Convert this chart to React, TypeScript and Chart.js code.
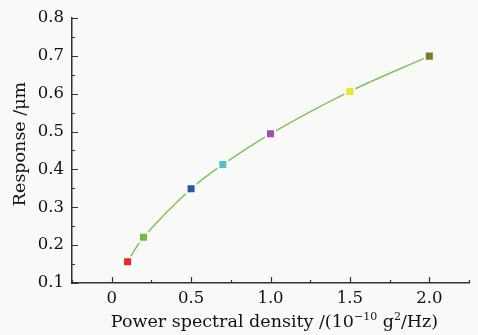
import React, { useEffect, useRef } from "react";
import { Chart, registerables } from "chart.js";

Chart.register(...registerables);

const xValues = [0.1, 0.2, 0.5, 0.7, 1.0, 1.5, 2.0];
const yValues = [0.156, 0.221, 0.349, 0.413, 0.494, 0.606, 0.699];
const pointColors = ["#e8282c", "#6cbf3f", "#2a55a8", "#55c0d0", "#a050a8", "#ece43c", "#7a7a30"];
const xTicks = [0, 0.5, 1.0, 1.5, 2.0];
const xTickLabels = ["0", "0.5", "1.0", "1.5", "2.0"];
const xMinorTicks = [-0.25, 0.25, 0.75, 1.25, 1.75, 2.25];
const yTicks = [0.1, 0.2, 0.3, 0.4, 0.5, 0.6, 0.7, 0.8];
const yTickLabels = ["0.1", "0.2", "0.3", "0.4", "0.5", "0.6", "0.7", "0.8"];
const yMinorTicks = [0.15, 0.25, 0.35, 0.45, 0.55, 0.65, 0.75];
const yTitle = "Response /μm";
// x title pieces: [text, isSuperscript]
const xTitleParts: [string, boolean][] = [
  ["Power spectral density /(10", false],
  ["−10", true],
  [" g", false],
  ["2", true],
  ["/Hz)", false],
];

const BG = "#f9f9f7";
const FONT = "'DejaVu Serif', serif";

export default function App() {
  const ref = useRef<HTMLCanvasElement | null>(null);
  useEffect(() => {
    if (!ref.current) return;
    const bgPlugin = {
      id: "bg",
      beforeDraw(chart: any) {
        const ctx = chart.ctx;
        ctx.save();
        ctx.fillStyle = BG;
        ctx.fillRect(0, 0, chart.width, chart.height);
        ctx.restore();
      },
    };
    const tickPlugin = {
      id: "inTicks",
      afterDraw(chart: any) {
        const ctx = chart.ctx;
        const xs = chart.scales.x;
        const ys = chart.scales.y;
        const area = chart.chartArea;
        ctx.save();
        ctx.strokeStyle = "#333";
        ctx.lineWidth = 1.2;
        ctx.beginPath();
        xTicks.forEach((v) => {
          const px = Math.round(xs.getPixelForValue(v)) + 0.5;
          ctx.moveTo(px, area.bottom);
          ctx.lineTo(px, area.bottom - 6);
        });
        xMinorTicks.forEach((v) => {
          const px = Math.round(xs.getPixelForValue(v)) + 0.5;
          ctx.moveTo(px, area.bottom);
          ctx.lineTo(px, area.bottom - 3);
        });
        yTicks.forEach((v) => {
          const py = Math.round(ys.getPixelForValue(v)) + 0.5;
          ctx.moveTo(area.left, py);
          ctx.lineTo(area.left + 6, py);
        });
        yMinorTicks.forEach((v) => {
          const py = Math.round(ys.getPixelForValue(v)) + 0.5;
          ctx.moveTo(area.left, py);
          ctx.lineTo(area.left + 3, py);
        });
        ctx.stroke();

        // titles
        ctx.fillStyle = "#111";
        ctx.textBaseline = "alphabetic";
        const big = 17.5;
        const small = 11;
        let total = 0;
        xTitleParts.forEach(([t, sup]) => {
          ctx.font = `${sup ? small : big}px ${FONT}`;
          total += ctx.measureText(t).width;
        });
        let x = (area.left + area.right) / 2 + 4 - total / 2;
        const baseY = 327;
        ctx.textAlign = "left";
        xTitleParts.forEach(([t, sup]) => {
          ctx.font = `${sup ? small : big}px ${FONT}`;
          ctx.fillText(t, x, sup ? baseY - 7 : baseY);
          x += ctx.measureText(t).width;
        });

        ctx.save();
        ctx.translate(25, 144);
        ctx.rotate(-Math.PI / 2);
        ctx.font = `${big}px ${FONT}`;
        ctx.textAlign = "center";
        ctx.fillText(yTitle, 0, 0);
        ctx.restore();
        ctx.restore();
      },
    };
    const chart = new Chart(ref.current, {
      type: "line",
      data: {
        datasets: [
          {
            data: xValues.map((x, i) => ({ x, y: yValues[i] })),
            borderColor: "#80c35e",
            borderWidth: 1.5,
            tension: 0.35,
            pointStyle: "rect",
            pointRadius: 6.4,
            pointBackgroundColor: pointColors,
            pointBorderColor: BG,
            pointBorderWidth: 2,
            fill: false,
          },
        ],
      },
      options: {
        animation: false,
        responsive: false,
        layout: { padding: { top: 16, right: 9, left: 0, bottom: 0 } },
        plugins: { legend: { display: false }, tooltip: { enabled: false } },
        scales: {
          x: {
            type: "linear",
            min: -0.25,
            max: 2.25,
            afterBuildTicks(scale: any) {
              scale.ticks = xTicks.map((v) => ({ value: v }));
            },
            afterFit(scale: any) {
              scale.height = 52;
            },
            grid: { display: false, drawTicks: false },
            border: { display: true, color: "#333", width: 1.5 },
            ticks: {
              padding: 6,
              color: "#111",
              font: { family: FONT, size: 16.5 },
              callback: (v: any) => {
                const i = xTicks.indexOf(Number(v));
                return i >= 0 ? xTickLabels[i] : "";
              },
              maxRotation: 0,
            },
            title: { display: false },
          },
          y: {
            type: "linear",
            min: 0.1,
            max: 0.8,
            afterBuildTicks(scale: any) {
              scale.ticks = yTicks.map((v) => ({ value: v }));
            },
            afterFit(scale: any) {
              scale.width = 72;
            },
            grid: { display: false, drawTicks: false },
            border: { display: true, color: "#333", width: 1.5 },
            ticks: {
              padding: 8,
              color: "#111",
              font: { family: FONT, size: 16.5 },
              callback: (v: any) => {
                const i = yTicks.findIndex((t) => Math.abs(t - Number(v)) < 1e-9);
                return i >= 0 ? yTickLabels[i] : "";
              },
            },
            title: { display: false },
          },
        },
      },
      plugins: [bgPlugin, tickPlugin],
    } as any);
    return () => chart.destroy();
  }, []);
  return (
    <div style={{ position: "fixed", left: 0, top: 0, width: 478, height: 335 }}>
      <canvas ref={ref} width={478} height={335} style={{ width: 478, height: 335 }} />
    </div>
  );
}
